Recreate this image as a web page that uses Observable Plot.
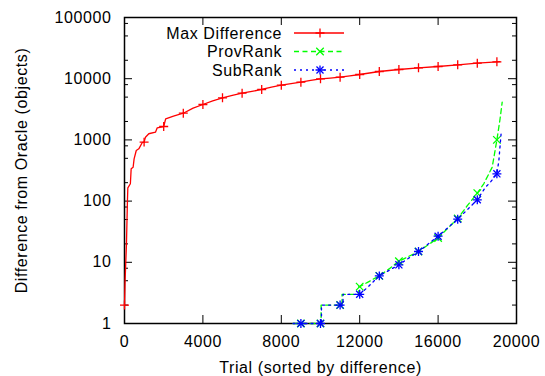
<!DOCTYPE html>
<html>
<head>
<meta charset="utf-8">
<script src="https://cdn.jsdelivr.net/npm/d3@7"></script>
<script src="https://cdn.jsdelivr.net/npm/@observablehq/plot@0.6"></script>
<style>
  body { margin: 0; background: #fff; }
  #wrap { position: relative; width: 545px; height: 376px; }
  #legend { position: absolute; left: 0; top: 0; }
</style>
</head>
<body>
<div id="wrap"></div>
<script>
const seriesNames = ["Max Difference", "ProvRank", "SubRank"];
const seriesColors = ["#ff0000", "#00ff00", "#0000ff"];

const maxTrial = [0, 30, 100, 150, 170, 300, 340, 440, 490, 600, 730, 900, 1000, 1070, 1240, 1580, 1670, 2000, 2100, 2500, 3000, 3500, 4000, 4500, 5000, 5500, 6000, 6500, 7000, 7500, 8000, 8500, 9000, 9500, 10000, 10500, 11000, 11500, 12000, 13000, 14000, 15000, 16000, 17000, 18000, 19000, 19150];
const maxValue = [2, 5, 20, 100, 165, 192, 337, 357, 491, 671, 715, 900, 920, 1107, 1260, 1336, 1577, 1655, 2213, 2450, 2730, 3300, 3790, 4350, 4875, 5350, 5800, 6200, 6665, 7300, 7835, 8300, 8770, 9400, 9950, 10250, 10590, 11100, 11710, 13110, 14140, 15060, 15830, 16860, 17910, 18900, 19000];

const provTrial = [8600, 9000, 10000, 10030, 10030, 11000, 11100, 11100, 11950, 11950, 12000, 12400, 13000, 13500, 14000, 15000, 16000, 17000, 17500, 18000, 18330, 18760, 19000, 19150, 19270];
const provValue = [1, 1, 1, 1, 2, 2, 2, 3, 3, 4, 4, 4.7, 6, 7.8, 10.4, 15, 25, 52, 85, 135, 192, 358, 1000, 2075, 4130];

const subTrial = [8600, 9000, 10000, 10050, 10050, 11000, 11150, 11150, 12000, 12400, 13000, 14000, 15000, 16000, 17000, 18000, 18420, 18670, 19000, 19100, 19220];
const subValue = [1, 1, 1, 1, 2, 2, 2, 3, 3, 3.9, 6, 9.1, 15, 26.7, 50.7, 105, 169, 204, 279, 460, 1336];

const xTicks = [0, 4000, 8000, 12000, 16000, 20000];
const yTicks = [1, 10, 100, 1000, 10000, 100000];
const yMinorTicks = [2, 5, 8, 20, 50, 80, 200, 500, 800, 2000, 5000, 8000, 20000, 50000, 80000];

const xLabel = "Trial (sorted by difference)";
const yLabel = "Difference from Oracle (objects)";

const rows = (T, V) => T.map((t, i) => ({trial: t, value: V[i]}));
const maxData = rows(maxTrial, maxValue);
const provData = rows(provTrial, provValue);
const subData = rows(subTrial, subValue);
const markers = (data) => data.filter((d, i, a) => d.trial % 1000 === 0 && a.findIndex(e => e.trial === d.trial) === i);

const fontFamily = "'Liberation Sans', Arial, Helvetica, sans-serif";
const W = 545, H = 376, mL = 124, mR = 29, mT = 17, mB = 53;
const fw = W - mL - mR, fh = H - mT - mB;
const major = 8, minor = 4;
const tickStyle = {stroke: "black", strokeWidth: 1};

const chart = Plot.plot({
  width: W,
  height: H,
  marginLeft: mL,
  marginRight: mR,
  marginTop: mT,
  marginBottom: mB,
  style: {fontFamily, fontSize: "16px", letterSpacing: "0.6px", color: "black", background: "white", overflow: "visible"},
  x: {domain: [0, 20000]},
  y: {type: "log", domain: [1, 100000]},
  marks: [
    Plot.axisX(xTicks, {anchor: "bottom", tickSize: 0, tickPadding: 12, tickFormat: d3.format("d"), label: null}),
    Plot.axisY(yTicks, {anchor: "left", tickSize: 0, tickPadding: 13, tickFormat: d3.format("d"), label: null}),
    // inward ticks on all four sides
    Plot.tickX(xTicks, {x: d => d, insetTop: fh - major, ...tickStyle}),
    Plot.tickX(xTicks, {x: d => d, insetBottom: fh - major, ...tickStyle}),
    Plot.tickY(yTicks, {y: d => d, insetRight: fw - major, ...tickStyle}),
    Plot.tickY(yTicks, {y: d => d, insetLeft: fw - major, ...tickStyle}),
    Plot.tickY(yMinorTicks, {y: d => d, insetRight: fw - minor, ...tickStyle}),
    Plot.tickY(yMinorTicks, {y: d => d, insetLeft: fw - minor, ...tickStyle}),
    Plot.text([xLabel], {frameAnchor: "bottom", dy: 44, lineAnchor: "middle", textAnchor: "middle", text: d => d}),
    Plot.text([yLabel], {frameAnchor: "left", dx: -103, rotate: -90, lineAnchor: "middle", textAnchor: "middle", text: d => d}),
    Plot.frame({stroke: "black", strokeWidth: 1.5}),
    Plot.line(maxData, {x: "trial", y: "value", stroke: seriesColors[0], strokeWidth: 1.3}),
    Plot.dot(markers(maxData), {x: "trial", y: "value", symbol: "plus", r: 3, stroke: seriesColors[0], strokeWidth: 1.3}),
    Plot.line(provData, {x: "trial", y: "value", stroke: seriesColors[1], strokeWidth: 1.3, strokeDasharray: "5,3.5"}),
    Plot.dot(markers(provData), {x: "trial", y: "value", symbol: "times", r: 3.5, stroke: seriesColors[1], strokeWidth: 1.3}),
    Plot.line(subData, {x: "trial", y: "value", stroke: seriesColors[2], strokeWidth: 1.3, strokeDasharray: "2,4"}),
    Plot.dot(markers(subData), {x: "trial", y: "value", symbol: "plus", r: 3, stroke: seriesColors[2], strokeWidth: 1.3}),
    Plot.dot(markers(subData), {x: "trial", y: "value", symbol: "times", r: 3.3, stroke: seriesColors[2], strokeWidth: 1.3})
  ]
});

const wrap = document.getElementById("wrap");
wrap.appendChild(chart);

// Legend (inside plot, top-left), drawn as an overlay
const legend = d3.create("svg").attr("id", "legend").attr("width", W).attr("height", 90)
  .style("font-family", fontFamily).style("font-size", "16px").style("letter-spacing", "0.6px");
const symbols = [["plus"], ["times"], ["plus", "times"]];
const symSize = {plus: Math.PI * 9, times: Math.PI * 3.5 * 3.5};
const symFn = {plus: d3.symbolPlus, times: d3.symbolTimes};
const dashes = [null, "5,3.5", "2,4"];
seriesNames.forEach((name, i) => {
  const cy = 33 + i * 18.5;
  legend.append("text").attr("x", 282).attr("y", cy).attr("text-anchor", "end")
    .attr("dominant-baseline", "central").attr("fill", "black").text(name);
  legend.append("line").attr("x1", 294).attr("x2", 344).attr("y1", cy).attr("y2", cy)
    .attr("stroke", seriesColors[i]).attr("stroke-width", 1.3).attr("stroke-dasharray", dashes[i]);
  symbols[i].forEach(s => {
    legend.append("path").attr("d", d3.symbol(symFn[s], s === "times" && i === 2 ? Math.PI * 3.3 * 3.3 : symSize[s])())
      .attr("transform", `translate(320,${cy})`).attr("fill", "none")
      .attr("stroke", seriesColors[i]).attr("stroke-width", 1.3);
  });
});
wrap.appendChild(legend.node());
</script>
</body>
</html>
